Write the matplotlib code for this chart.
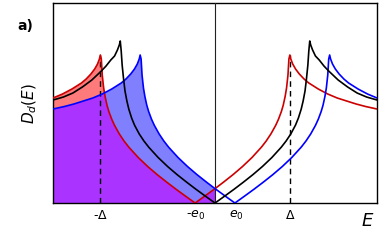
import matplotlib
matplotlib.use("Agg")
import matplotlib.pyplot as plt
from matplotlib.patches import Polygon

# ---- data (E in units of Delta) ----
red_E = [-1.71, -1.61, -1.51, -1.41, -1.36, -1.31, -1.27, -1.24, -1.22, -1.21,
         -1.20, -1.19, -1.175, -1.16, -1.14, -1.12, -1.09, -1.06, -1.01, -0.96,
         -0.91, -0.81, -0.71, -0.61, -0.51, -0.41, -0.31, -0.21, -0.11, 0.00,
         0.09, 0.19, 0.29, 0.39, 0.49, 0.54, 0.59, 0.64, 0.67, 0.70,
         0.72, 0.74, 0.755, 0.77, 0.78, 0.79, 0.80, 0.82, 0.85, 0.89,
         0.94, 0.99, 1.09, 1.19, 1.29, 1.39, 1.49, 1.59, 1.71]
red_D = [1.05, 1.09, 1.14, 1.20, 1.24, 1.29, 1.34, 1.39, 1.44, 1.48,
         1.44, 1.28, 1.15, 1.065, 0.978, 0.914, 0.838, 0.776, 0.691, 0.62,
         0.559, 0.455, 0.365, 0.284, 0.209, 0.137, 0.068, 0.0, 0.068, 0.144,
         0.209, 0.284, 0.365, 0.455, 0.559, 0.62, 0.691, 0.776, 0.838, 0.914,
         0.978, 1.065, 1.15, 1.28, 1.44, 1.48, 1.44, 1.39, 1.34, 1.29,
         1.24, 1.20, 1.14, 1.09, 1.05, 1.02, 0.99, 0.965, 0.94]

black_E = [-1.71, -1.60, -1.50, -1.40, -1.30, -1.20, -1.15, -1.10, -1.06, -1.03,
           -1.01, -1.00, -0.99, -0.98, -0.965, -0.95, -0.93, -0.91, -0.88, -0.85,
           -0.80, -0.75, -0.70, -0.60, -0.50, -0.40, -0.30, -0.20, -0.10, 0.00,
           0.10, 0.20, 0.30, 0.40, 0.50, 0.60, 0.70, 0.75, 0.80, 0.85,
           0.88, 0.91, 0.93, 0.95, 0.965, 0.98, 0.99, 1.00, 1.01, 1.03,
           1.06, 1.10, 1.15, 1.20, 1.30, 1.40, 1.50, 1.60, 1.71]
black_D = [1.03, 1.06, 1.10, 1.16, 1.23, 1.32, 1.37, 1.43, 1.47, 1.53,
           1.58, 1.62, 1.52, 1.38, 1.24, 1.12, 1.02, 0.94, 0.85, 0.78,
           0.691, 0.62, 0.559, 0.455, 0.365, 0.284, 0.209, 0.137, 0.068, 0.0,
           0.068, 0.137, 0.209, 0.284, 0.365, 0.455, 0.559, 0.62, 0.691, 0.78,
           0.85, 0.94, 1.02, 1.12, 1.24, 1.38, 1.52, 1.62, 1.58, 1.53,
           1.47, 1.43, 1.37, 1.32, 1.23, 1.16, 1.10, 1.06, 1.03]

blue_E = [-1.71, -1.59, -1.49, -1.39, -1.29, -1.19, -1.09, -0.99, -0.94, -0.89,
          -0.85, -0.82, -0.80, -0.79, -0.78, -0.77, -0.755, -0.74, -0.72, -0.70,
          -0.67, -0.64, -0.59, -0.54, -0.49, -0.39, -0.29, -0.19, -0.09, 0.00,
          0.11, 0.21, 0.31, 0.41, 0.51, 0.61, 0.71, 0.81, 0.91, 0.96,
          1.01, 1.06, 1.09, 1.12, 1.14, 1.16, 1.175, 1.19, 1.20, 1.21,
          1.22, 1.24, 1.27, 1.31, 1.36, 1.41, 1.51, 1.61, 1.71]
blue_D = [0.94, 0.965, 0.99, 1.02, 1.05, 1.09, 1.14, 1.20, 1.24, 1.29,
          1.34, 1.39, 1.44, 1.48, 1.44, 1.28, 1.15, 1.065, 0.978, 0.914,
          0.838, 0.776, 0.691, 0.62, 0.559, 0.455, 0.365, 0.284, 0.209, 0.144,
          0.068, 0.0, 0.068, 0.137, 0.209, 0.284, 0.365, 0.455, 0.559, 0.62,
          0.691, 0.776, 0.838, 0.914, 0.978, 1.065, 1.15, 1.28, 1.44, 1.48,
          1.44, 1.39, 1.34, 1.29, 1.24, 1.20, 1.14, 1.09, 1.05]

tick_pos = [-1.21, -0.21, 0.22, 0.79]
tick_labels = [r"-$\Delta$", r"-$e_0$", r"$e_0$", r"$\Delta$"]
gap_edges = [-1.21, 0.79]
gap_heights = [1.48, 1.48]

# ---- figure ----
fig = plt.figure(figsize=(3.82, 2.40), dpi=100)
ax = fig.add_axes([0.1387, 0.154, 0.8483, 0.8335])

def left_polygon(E, D):
    pts = [(e, d) for e, d in zip(E, D) if e <= 0]
    return [(pts[0][0], 0.0)] + pts + [(pts[-1][0], 0.0)]

blue_poly = left_polygon(blue_E, blue_D)
red_poly = left_polygon(red_E, red_D)

ax.add_patch(Polygon(blue_poly, closed=True, facecolor="#8080ff", edgecolor="none", zorder=1))
ax.add_patch(Polygon(red_poly, closed=True, facecolor="#ff7a7a", edgecolor="none", zorder=1))
clip = Polygon(blue_poly, closed=True, transform=ax.transData)
purple = Polygon(red_poly, closed=True, facecolor="#aa33ff", edgecolor="none", zorder=2)
ax.add_patch(purple)
purple.set_clip_path(clip)

ax.axvline(0, color="#222222", lw=0.8, zorder=3)
for xe, h in zip(gap_edges, gap_heights):
    ax.plot([xe, xe], [0, h], color="black", lw=1.0, ls=(0, (4, 3)), zorder=3)

ax.plot(red_E, red_D, color="#cc0000", lw=1.2, zorder=4)
ax.plot(blue_E, blue_D, color="#0000ff", lw=1.2, zorder=4)
ax.plot(black_E, black_D, color="black", lw=1.2, zorder=5)

ax.set_xlim(-1.71, 1.71)
ax.set_ylim(0, 2.0)
ax.set_yticks([])
ax.set_xticks(tick_pos)
ax.set_xticklabels(tick_labels, fontsize=9)
ax.tick_params(axis="x", length=0, pad=4)
for s in ax.spines.values():
    s.set_linewidth(1.0)

ax.set_ylabel(r"$D_d(E)$", fontsize=11, labelpad=10)
fig.text(0.045, 0.875, "a)", fontsize=10, fontweight="bold")
fig.text(0.945, 0.06, r"$E$", fontsize=13)

fig.savefig("out.png", dpi=100)
